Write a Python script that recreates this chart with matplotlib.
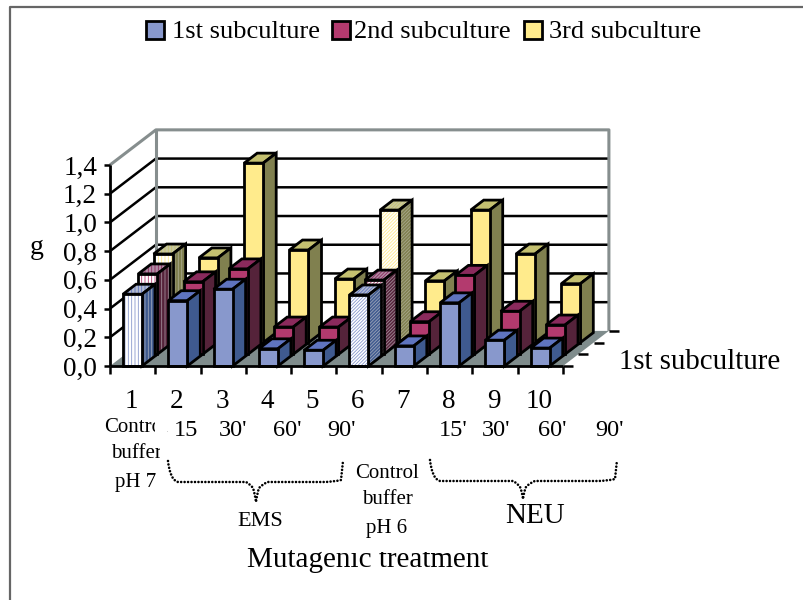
import matplotlib
matplotlib.use("Agg")
import matplotlib.pyplot as plt
from matplotlib.patches import Polygon, Rectangle, PathPatch
from matplotlib.path import Path
from matplotlib.transforms import Affine2D

plt.rcParams["font.family"] = ["Liberation Serif", "DejaVu Serif"]
plt.rcParams["hatch.linewidth"] = 0.6

categories = ["1", "2", "3", "4", "5", "6", "7", "8", "9", "10"]
series_names = ["1st subculture", "2nd subculture", "3rd subculture"]
first = [0.50, 0.455, 0.535, 0.12, 0.11, 0.495, 0.14, 0.44, 0.18, 0.125]
second = [0.56, 0.505, 0.595, 0.19, 0.19, 0.517, 0.227, 0.55, 0.30, 0.204]
third = [0.617, 0.59, 1.25, 0.645, 0.443, 0.923, 0.43, 0.923, 0.617, 0.41]
y_ticks = [0.0, 0.2, 0.4, 0.6, 0.8, 1.0, 1.2, 1.4]
y_labels = ["0,0", "0,2", "0,4", "0,6", "0,8", "1,0", "1,2", "1,4"]

front_cols = ["#8898cc", "#b33a6e", "#ffeb8c"]
side_cols = ["#3f5a8f", "#55233a", "#80804f"]
top_cols = ["#5f74bf", "#8a2a5c", "#c4c070"]
# the two control bars are patterned in the original
hatches = {0: "|||||", 5: "//////////"}
hatch_tops = ["#b4bcd0", "#b08ca4", "#c8c8a0"]
hatch_sides = ["#9aa4b8", "#a08c98", "#a8a88c"]

W, H = 804, 600
X0, XU = 110.0, 45.3
Y0, YU = 366.0, 143.6
DX, DY = 15.3 / XU, 11.7 / YU
BAR_OFF, BAR_W, BAR_D = 13 / XU, 19 / XU, 0.85

fig = plt.figure(figsize=(W / 100, H / 100), dpi=100)
ax = fig.add_axes([0, 0, 1, 1])
# axes data units are categories and grams, depth gets sheared in by proj()
ax.set_xlim((0 - X0) / XU, (W - X0) / XU)
ax.set_ylim((Y0 - H) / YU, Y0 / YU)
ax.axis("off")

px = Affine2D().scale(1, -1).translate(0, H)  # image pixels


def proj(c, v, d=0.0):
    return (c + DX * d, v + DY * d)


def line(pts, color="black", lw=1.8, z=2):
    ax.plot([p[0] for p in pts], [p[1] for p in pts], color=color, lw=lw, zorder=z,
            solid_capstyle="butt")


def face(pts, col, z, hatch=None, hatch_col=None):
    if hatch:
        ax.add_patch(Polygon(pts, closed=True, facecolor=col, edgecolor=hatch_col, hatch=hatch, lw=0, zorder=z))
        ax.add_patch(Polygon(pts, closed=True, fill=False, edgecolor="black", lw=2.0, zorder=z, joinstyle="miter"))
    else:
        ax.add_patch(Polygon(pts, closed=True, facecolor=col, edgecolor="black", lw=2.0, zorder=z, joinstyle="miter"))


# floor and walls
n = len(categories)
ax.add_patch(Polygon([proj(0, 0), proj(n, 0), proj(n, 0, 3), proj(0, 0, 3)], closed=True,
                     facecolor="#7f8c8c", edgecolor="none", zorder=1))
for v in y_ticks[1:-1]:
    line([proj(0, v), proj(0, v, 3), proj(n, v, 3)], z=1.2)
grey = "#868e8e"
line([proj(0, 1.4), proj(0, 1.4, 3), proj(n, 1.4, 3), proj(n, 0, 3)], color=grey, lw=2.2, z=1.3)
line([proj(0, 1.4, 3), proj(0, 0.0, 3)], color=grey, lw=2.2, z=1.3)

# bars, back row first
z = 3.0
for r, vals in reversed(list(enumerate([first, second, third]))):
    for c, v in enumerate(vals):
        a = c + BAR_OFF
        b = a + BAR_W
        d0, d1 = r, r + BAR_D
        h = hatches.get(c)
        z += 0.01
        top = [proj(a, v, d0), proj(a, v, d1), proj(b, v, d1), proj(b, v, d0)]
        side = [proj(b, 0, d0), proj(b, v, d0), proj(b, v, d1), proj(b, 0, d1)]
        front = [proj(a, 0, d0), proj(a, v, d0), proj(b, v, d0), proj(b, 0, d0)]
        if h:
            face(top, hatch_tops[r], z, h, top_cols[r])
            face(side, side_cols[r], z, h, hatch_sides[r])
            face(front, "white", z, h, front_cols[r])
        else:
            face(top, top_cols[r], z)
            face(side, side_cols[r], z)
            face(front, front_cols[r], z)

# axis lines and ticks
ZA = 6
tick_x = 6 / XU
tick_y = 8 / YU
line([proj(0, 0), proj(0, 1.4)], lw=2.0, z=ZA)
line([proj(0, 0), proj(n, 0)], lw=2.0, z=ZA)
for v, lab in zip(y_ticks, y_labels):
    line([(-tick_x, v), (0, v)], lw=1.8, z=ZA)
    ax.text(-13 / XU, v, lab, ha="right", va="center_baseline", fontsize=19.5, zorder=7)
for c in range(n + 1):
    line([(c, 0), (c, -tick_y)], lw=1.8, z=ZA)
for d in range(4):
    p = proj(n, 0, d)
    line([p, (p[0] + 10 / XU, p[1])], lw=1.8, z=ZA)

# category numbers, their lower edge is cut off in the original
for c, lab in enumerate(categories):
    ax.text(c + 0.47, -23 / YU, lab, ha="center", va="top", fontsize=19.5, zorder=7)
ax.add_patch(Rectangle((100, 407.5), 470, 8, transform=px, fc="white", ec="none", zorder=8))

# pasted text boxes under the axis
for x, s in zip([186, 233, 287, 342, 453, 496, 552, 610], ["15", "30'", "60'", "90'", "15'", "30'", "60'", "90'"]):
    ax.text(x, 430, s, transform=px, ha="center", va="center", fontsize=17.5, zorder=10)
for y, s in zip([427, 454, 482], ["Control", "buffer", "pH 7"]):
    ax.text(136, y, s, transform=px, ha="center", va="center", fontsize=15, zorder=7)
ax.add_patch(Rectangle((155, 412), 12, 27, transform=px, fc="white", ec="none", zorder=8))
ax.add_patch(Rectangle((160, 439), 12, 24, transform=px, fc="white", ec="none", zorder=8))
for y, s in zip([473, 500, 529], ["Control", "buffer", "pH 6"]):
    ax.text(387, y, s, transform=px, ha="center", va="center", fontsize=15, zorder=10)
ax.text(260, 521, "EMS", transform=px, ha="center", va="center", fontsize=16, zorder=10)
ax.text(535, 516, "NEU", transform=px, ha="center", va="center", fontsize=21, zorder=10)
ax.text(368, 560, "Mutagenic treatment", transform=px, ha="center", va="center", fontsize=21, zorder=7)
ax.add_patch(Rectangle((335, 540), 160, 12, transform=px, fc="white", ec="none", zorder=8))
ax.text(37, 247, "g", transform=px, ha="center", va="center", fontsize=20, zorder=7)
ax.text(619, 362, series_names[0], transform=px, ha="left", va="center", fontsize=20.8, zorder=7)


def brace(x0, x1, xm, y0, ym, ytip):
    verts = [(x0, y0), (x0 + 2, ym - 2), (x0 + 10, ym), (x0 + 20, ym),
             (xm - 12, ym), (xm - 10, ym), (xm - 6, ym + 2), (xm - 3, ym + 6), (xm - 1, ytip - 8), (xm, ytip),
             (xm + 1, ytip - 8), (xm + 3, ym + 6), (xm + 8, ym + 1),
             (xm + 12, ym), (xm + 14, ym), (x1 - 20, ym),
             (x1 - 10, ym), (x1 - 2, ym - 2), (x1, y0)]
    codes = [Path.MOVETO, Path.CURVE3, Path.CURVE3, Path.LINETO,
             Path.LINETO, Path.LINETO, Path.CURVE3, Path.CURVE3, Path.CURVE3, Path.CURVE3,
             Path.CURVE3, Path.CURVE3, Path.CURVE3, Path.CURVE3,
             Path.LINETO, Path.LINETO,
             Path.CURVE3, Path.CURVE3, Path.LINETO]
    ax.add_patch(PathPatch(Path(verts, codes), transform=px, fill=False, lw=1.9,
                           linestyle=(0, (0.01, 1.3)), capstyle="round", zorder=9))


brace(168, 343, 256, 461, 482, 502)
brace(430, 617, 523, 460, 481, 499)

# legend
for x, col, tx, s in zip([146, 332, 524], front_cols, [172, 354, 549], series_names):
    ax.add_patch(Rectangle((x, 21), 18, 18, transform=px, fc=col, ec="black", lw=2.0, zorder=7))
    ax.text(tx, 32, s, transform=px, ha="left", va="center", fontsize=19, zorder=7)

# outer frame, only top and left show
ax.plot([10, 10, 804], [600, 7, 7], transform=px, color="#666666", lw=1.6, zorder=20)

fig.savefig("out.png", dpi=100)
